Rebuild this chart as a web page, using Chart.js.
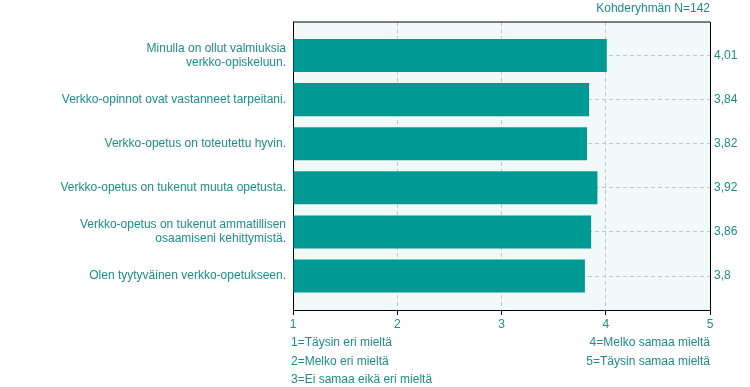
<!DOCTYPE html>
<html>
<head>
<meta charset="utf-8">
<script src="https://cdn.jsdelivr.net/npm/chart.js@4/dist/chart.umd.min.js"></script>
<style>
  body { margin: 0; background: #fff; }
  canvas { display: block; }
</style>
</head>
<body>
<canvas id="chart" width="750" height="387"></canvas>
<script>
const categories = [
  ['Minulla on ollut valmiuksia', 'verkko-opiskeluun.'],
  'Verkko-opinnot ovat vastanneet tarpeitani.',
  'Verkko-opetus on toteutettu hyvin.',
  'Verkko-opetus on tukenut muuta opetusta.',
  ['Verkko-opetus on tukenut ammatillisen', 'osaamiseni kehittymistä.'],
  'Olen tyytyväinen verkko-opetukseen.',
];
const values = [4.01, 3.84, 3.82, 3.92, 3.86, 3.8];
const valueLabels = ['4,01', '3,84', '3,82', '3,92', '3,86', '3,8'];
const scaleTicks = [1, 2, 3, 4, 5];
const legendLeft = ['1=Täysin eri mieltä', '2=Melko eri mieltä', '3=Ei samaa eikä eri mieltä'];
const legendRight = ['4=Melko samaa mieltä', '5=Täysin samaa mieltä'];
const groupLabel = 'Kohderyhmän N=142';

const teal = '#009a94';
const textColor = '#1e8c89';
const gridColor = '#c6c6c6';
const font = { family: "'Liberation Sans', Arial, sans-serif", size: 12 };

const categoryTicks = (scale) => {
  scale.ticks = categories.map((c, i) => ({ value: i }));
};

const framePlugin = {
  id: 'frame',
  beforeDraw(chart) {
    const { ctx, chartArea: a } = chart;
    ctx.save();
    ctx.fillStyle = '#f1f9f9';
    ctx.fillRect(a.left, a.top, a.right - a.left, a.bottom - a.top);
    ctx.restore();
  },
  afterDraw(chart) {
    const { ctx, chartArea: a } = chart;
    ctx.save();
    ctx.strokeStyle = '#000';
    ctx.lineWidth = 1;
    ctx.beginPath();
    ctx.moveTo(a.left, a.top);
    ctx.lineTo(a.right, a.top);
    ctx.stroke();

    ctx.font = `${font.size}px ${font.family}`;
    ctx.fillStyle = textColor;
    ctx.textBaseline = 'middle';

    ctx.textAlign = 'right';
    ctx.fillText(groupLabel, a.right, a.top - 13);

    ctx.textAlign = 'left';
    legendLeft.forEach((t, i) => {
      ctx.fillText(t, a.left - 2, a.bottom + 33 + i * 18.3);
    });
    ctx.textAlign = 'right';
    legendRight.forEach((t, i) => {
      ctx.fillText(t, a.right, a.bottom + 33 + i * 18.3);
    });
    ctx.restore();
  },
};

new Chart(document.getElementById('chart'), {
  type: 'bar',
  data: {
    datasets: [{
      data: values.map((v, i) => ({ x: v, y: i })),
      backgroundColor: teal,
      borderWidth: 0,
      base: 1,
      categoryPercentage: 1,
      barPercentage: 0.75,
    }],
  },
  options: {
    indexAxis: 'y',
    responsive: false,
    animation: false,
    layout: { padding: { top: 22, left: 0, right: 0, bottom: 0 } },
    plugins: {
      legend: { display: false },
      tooltip: { enabled: false },
    },
    scales: {
      x: {
        type: 'linear',
        min: 1,
        max: 5,
        afterBuildTicks: (scale) => {
          scale.ticks = scaleTicks.map((v) => ({ value: v }));
        },
        afterFit: (scale) => { scale.height = 77; },
        ticks: { color: textColor, font, padding: 2, maxRotation: 0 },
        grid: {
          color: gridColor,
          tickColor: '#000',
          tickLength: 5,
          tickBorderDash: [],
        },
        border: { color: '#000', width: 1, dash: [4, 3] },
      },
      y: {
        type: 'linear',
        position: 'left',
        reverse: true,
        offset: false,
        min: -0.76,
        max: 5.77,
        afterBuildTicks: categoryTicks,
        afterFit: (scale) => { scale.width = 293; },
        ticks: {
          color: textColor,
          font,
          padding: 7,
          callback: (v) => categories[v],
        },
        grid: { color: gridColor, drawTicks: false, offset: false },
        border: { color: '#000', width: 1, dash: [4, 3] },
      },
      y2: {
        type: 'linear',
        position: 'right',
        reverse: true,
        offset: false,
        min: -0.76,
        max: 5.77,
        afterBuildTicks: categoryTicks,
        afterFit: (scale) => { scale.width = 40; },
        ticks: {
          color: textColor,
          font,
          padding: 4,
          callback: (v) => valueLabels[v],
        },
        grid: { display: false, drawTicks: false, offset: false },
        border: { color: '#000', width: 1 },
      },
    },
  },
  plugins: [framePlugin],
});
</script>
</body>
</html>
